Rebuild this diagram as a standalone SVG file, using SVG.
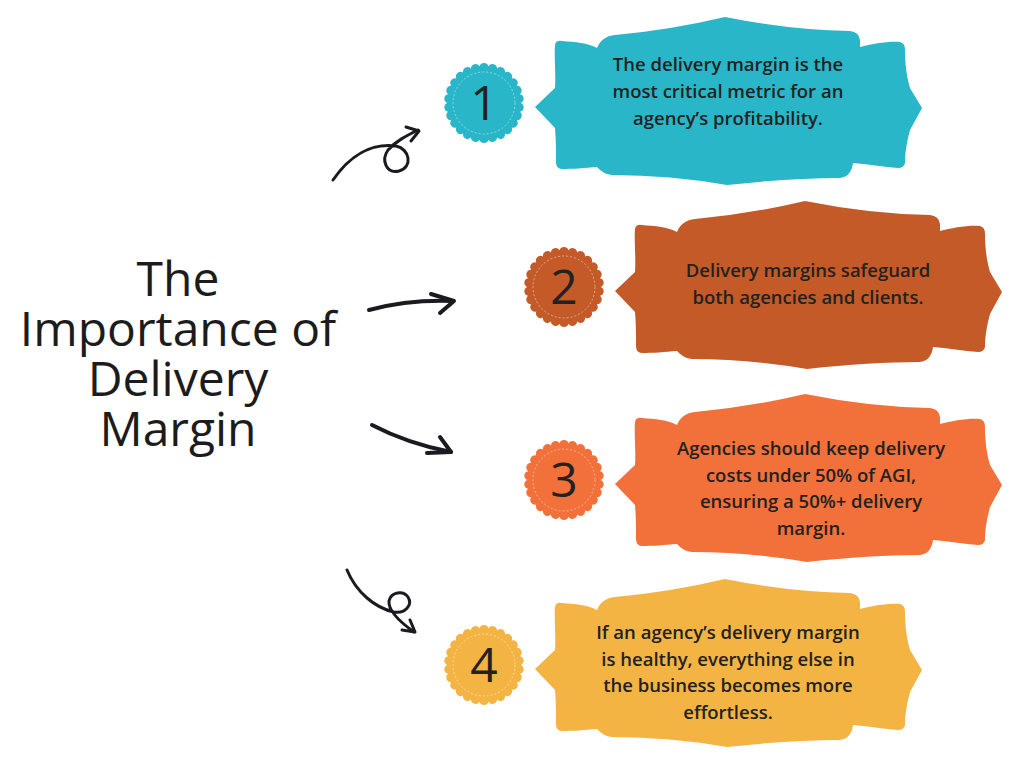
<svg xmlns="http://www.w3.org/2000/svg" xmlns:xlink="http://www.w3.org/1999/xlink" width="1024" height="768" viewBox="0 0 1024 768">
<style>
.body{font-family:"Open Sans","Liberation Sans",sans-serif;font-weight:600;font-size:18.5px;fill:#222;text-anchor:middle}
.num{font-family:"Open Sans","Liberation Sans",sans-serif;font-weight:400;font-size:48px;fill:#222;text-anchor:middle}
.title{font-family:"Open Sans","Liberation Sans",sans-serif;font-weight:400;font-size:48px;fill:#1c1c1c;text-anchor:middle}
.dash{fill:none;stroke:#fff;stroke-opacity:0.45;stroke-width:1;stroke-dasharray:2 2}
.arr{fill:none;stroke:#1c1a20;stroke-linecap:round;stroke-linejoin:round}
</style>
<defs>
<path id="blob" d="M535,107 L555,88 C556,75 554,55 555,45 Q556,40 562,41 C575,42 588,43 597,48 C600,40 606,36 615,35 Q670,30 725,17 Q790,30 850,31 Q859,32 860,40 L860,47 C872,44 888,41 900,42 Q905,43 905,50 C905,65 907,78 910,88 L922,108 L910,130 C906,145 905,155 905,163 Q904,168 898,168 C885,167 866,164 853,163 C852,170 849,177 840,178 Q790,178 727,185 Q670,175 612,175 Q603,174 597,167 C585,168 572,169 562,169 Q556,169 556,162 C556,150 556,140 555,128 Z"/>
<path id="seal" d="M37,0 A4.7,4.7 0 0 1 35.92,8.85 A4.7,4.7 0 0 1 32.76,17.19 A4.7,4.7 0 0 1 27.69,24.53 A4.7,4.7 0 0 1 21.02,30.45 A4.7,4.7 0 0 1 13.12,34.6 A4.7,4.7 0 0 1 4.46,36.73 A4.7,4.7 0 0 1 -4.46,36.73 A4.7,4.7 0 0 1 -13.12,34.6 A4.7,4.7 0 0 1 -21.02,30.45 A4.7,4.7 0 0 1 -27.69,24.53 A4.7,4.7 0 0 1 -32.76,17.19 A4.7,4.7 0 0 1 -35.92,8.85 A4.7,4.7 0 0 1 -37,0 A4.7,4.7 0 0 1 -35.92,-8.85 A4.7,4.7 0 0 1 -32.76,-17.19 A4.7,4.7 0 0 1 -27.69,-24.53 A4.7,4.7 0 0 1 -21.02,-30.45 A4.7,4.7 0 0 1 -13.12,-34.6 A4.7,4.7 0 0 1 -4.46,-36.73 A4.7,4.7 0 0 1 4.46,-36.73 A4.7,4.7 0 0 1 13.12,-34.6 A4.7,4.7 0 0 1 21.02,-30.45 A4.7,4.7 0 0 1 27.69,-24.53 A4.7,4.7 0 0 1 32.76,-17.19 A4.7,4.7 0 0 1 35.92,-8.85 A4.7,4.7 0 0 1 37,0 Z"/>
</defs>
<rect width="1024" height="768" fill="#fff"/>

<g id="title">
<text class="title" x="178" y="296">The</text>
<text class="title" x="178" y="346">Importance of</text>
<text class="title" x="178" y="396">Delivery</text>
<text class="title" x="178" y="446">Margin</text>
</g>

<g id="connectors">
<path class="arr" stroke-width="3" d="M333,180 C350,155 372,143 396,146 C410,149 413,167 399,171 C386,174 381,160 388,150 C396,141 406,136 418,130"/>
<path class="arr" stroke-width="3" d="M406,127 L419,131 L411,141"/>
<path class="arr" stroke-width="4" d="M369,310 C395,303 425,300 453,301"/>
<path class="arr" stroke-width="4" d="M431,294 L454,301 L440,313"/>
<path class="arr" stroke-width="4" d="M372,425 C395,437 420,446 451,452"/>
<path class="arr" stroke-width="4" d="M440,437 L451,452 L427,453"/>
<path class="arr" stroke-width="3" d="M347,570 C356,592 375,608 394,612 C405,614 413,605 408,597 C403,590 391,592 389,601 C388,611 400,622 414,632"/>
<path class="arr" stroke-width="3" d="M410,620 L415,632 L402,630"/>
</g>

<g id="node1">
<use xlink:href="#blob" href="#blob" fill="#29b6c8"/>
<g transform="translate(484,103)">
<use xlink:href="#seal" href="#seal" fill="#29b6c8"/>
<circle class="dash" r="31"/>
<text class="num" y="17">1</text>
</g>
<text class="body" x="728" y="71">The delivery margin is the</text>
<text class="body" x="728" y="98">most critical metric for an</text>
<text class="body" x="728" y="125">agency’s profitability.</text>
</g>

<g id="node2">
<use xlink:href="#blob" href="#blob" fill="#c45a27" transform="translate(80,184)"/>
<g transform="translate(564,287)">
<use xlink:href="#seal" href="#seal" fill="#c45a27"/>
<circle class="dash" r="31"/>
<text class="num" y="17">2</text>
</g>
<text class="body" x="808" y="277">Delivery margins safeguard</text>
<text class="body" x="808" y="304">both agencies and clients.</text>
</g>

<g id="node3">
<use xlink:href="#blob" href="#blob" fill="#f2703a" transform="translate(80,377)"/>
<g transform="translate(564,480)">
<use xlink:href="#seal" href="#seal" fill="#f2703a"/>
<circle class="dash" r="31"/>
<text class="num" y="17">3</text>
</g>
<text class="body" x="811" y="455">Agencies should keep delivery</text>
<text class="body" x="811" y="482">costs under 50% of AGI,</text>
<text class="body" x="811" y="508">ensuring a 50%+ delivery</text>
<text class="body" x="811" y="535">margin.</text>
</g>

<g id="node4">
<use xlink:href="#blob" href="#blob" fill="#f4b443" transform="translate(0,562)"/>
<g transform="translate(484,665)">
<use xlink:href="#seal" href="#seal" fill="#f4b443"/>
<circle class="dash" r="31"/>
<text class="num" y="17">4</text>
</g>
<text class="body" x="728" y="639">If an agency’s delivery margin</text>
<text class="body" x="728" y="666">is healthy, everything else in</text>
<text class="body" x="728" y="692">the business becomes more</text>
<text class="body" x="728" y="719">effortless.</text>
</g>
</svg>
